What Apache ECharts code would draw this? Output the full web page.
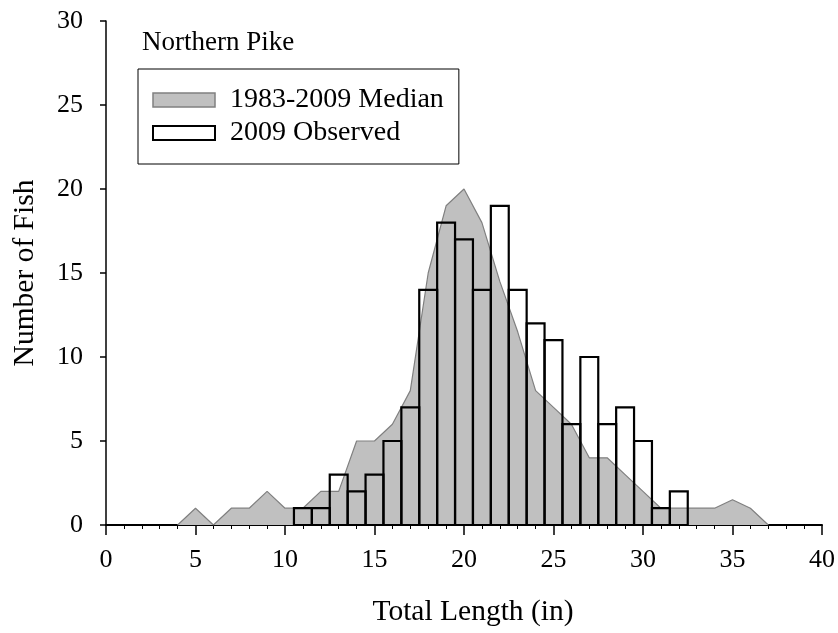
<!DOCTYPE html>
<html>
<head>
<meta charset="utf-8">
<script src="https://cdn.jsdelivr.net/npm/echarts@6/dist/echarts.min.js"></script>
<style>html,body{margin:0;padding:0;background:#fff;}#c{width:838px;height:633px;}</style>
</head>
<body>
<div id="c"></div>
<script>
// Data
const medianLengths = [4,5,6,7,8,9,10,11,12,13,14,15,16,17,18,19,20,21,22,23,24,25,26,27,28,29,30,31,32,33,34,35,36,37];
const medianCounts  = [0,1,0,1,1,2,1,1,2,2,5,5,6,8,15,19,20,18,14.5,11.5,8,7,6,4,4,3,2,1,1,1,1,1.5,1,0];
const observedLengths = [11,12,13,14,15,16,17,18,19,20,21,22,23,24,25,26,27,28,29,30,31,32];
const observedCounts  = [1,1,3,2,3,5,7,14,18,17,14,19,14,12,11,6,10,6,7,5,1,2];
const seriesNames = ['1983-2009 Median', '2009 Observed'];
const chartTitle = 'Northern Pike';
const xName = 'Total Length (in)';
const yName = 'Number of Fish';

const FONT = "'Liberation Serif', 'Times New Roman', serif";
const medianData = medianLengths.map((x, i) => [x, medianCounts[i]]);
const observedData = observedLengths.map((x, i) => [x, observedCounts[i]]);

const chart = echarts.init(document.getElementById('c'), null, {renderer: 'canvas'});
chart.setOption({
  animation: false,
  backgroundColor: '#fff',
  graphic: [{
    type: 'text', left: 142, top: 29, z: 10,
    style: {text: chartTitle, fontFamily: FONT, fontSize: 27, fill: '#000'}
  }],
  legend: {
    left: 138, top: 69, orient: 'vertical',
    padding: [17, 15, 17, 14], itemGap: 5, itemWidth: 62, itemHeight: 14,
    borderColor: '#000', borderWidth: 1, backgroundColor: '#fff',
    textStyle: {fontFamily: FONT, fontSize: 28, color: '#000', padding: [0, 0, 0, 10]},
    data: [
      {name: seriesNames[0], icon: 'rect', itemStyle: {color: '#c0c0c0', borderColor: '#808080', borderWidth: 1.5}},
      {name: seriesNames[1], icon: 'rect', itemStyle: {color: '#fff', borderColor: '#000', borderWidth: 2}}
    ]
  },
  grid: {left: 106, right: 15, top: 21, bottom: 108},
  xAxis: {
    type: 'value', min: 0, max: 40, interval: 5,
    name: xName, nameLocation: 'middle', nameGap: 72,
    nameTextStyle: {fontFamily: FONT, fontSize: 29.5, color: '#000', padding: [0, 0, 0, 18]},
    axisLine: {onZero: false, lineStyle: {color: '#000', width: 2}},
    axisTick: {show: true, length: 10, lineStyle: {color: '#000', width: 1.5}},
    minorTick: {show: true, splitNumber: 5, length: 4, lineStyle: {color: '#000', width: 1}},
    splitLine: {show: false},
    axisLabel: {fontFamily: FONT, fontSize: 26, color: '#000', margin: 22}
  },
  yAxis: {
    type: 'value', min: 0, max: 30, interval: 5,
    name: yName, nameLocation: 'middle', nameGap: 66,
    nameTextStyle: {fontFamily: FONT, fontSize: 29.5, color: '#000'},
    axisLine: {show: true, lineStyle: {color: '#000', width: 1.5}},
    axisTick: {show: true, length: 6, lineStyle: {color: '#000', width: 1.5}},
    splitLine: {show: false},
    axisLabel: {fontFamily: FONT, fontSize: 26, color: '#000', margin: 23}
  },
  series: [
    {
      name: seriesNames[0], type: 'line', data: medianData,
      symbol: 'none', z: 2,
      lineStyle: {color: '#808080', width: 1.2},
      areaStyle: {color: '#c0c0c0', opacity: 1},
      itemStyle: {color: '#c0c0c0'}
    },
    {
      name: seriesNames[1], type: 'custom', data: observedData, z: 3,
      itemStyle: {color: '#fff', borderColor: '#000'},
      renderItem: function (params, api) {
        const x = api.value(0), y = api.value(1);
        const p1 = api.coord([x - 0.5, y]);
        const p2 = api.coord([x + 0.5, 0]);
        return {
          type: 'rect',
          shape: {x: p1[0], y: p1[1], width: p2[0] - p1[0], height: p2[1] - p1[1]},
          style: {fill: 'none', stroke: '#000', lineWidth: 2.2}
        };
      }
    }
  ]
});
</script>
</body>
</html>
